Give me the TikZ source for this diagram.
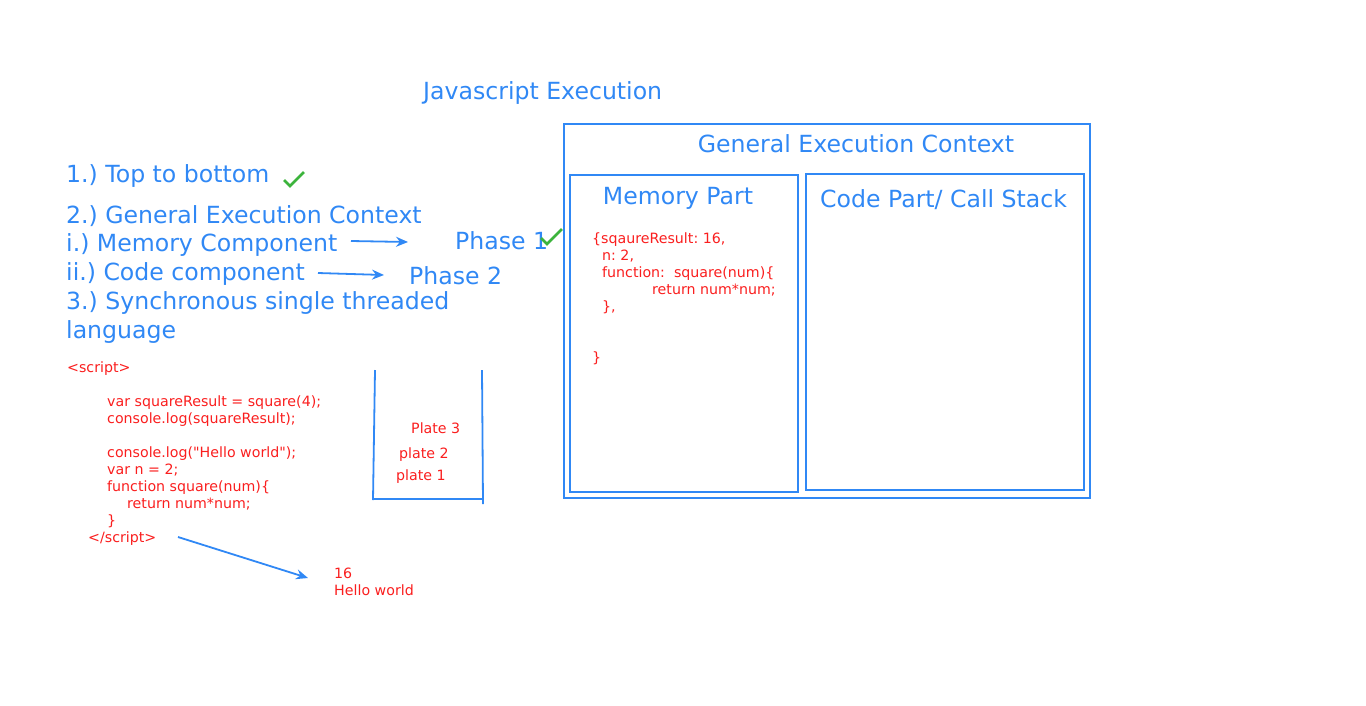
\documentclass[tikz,border=0pt]{standalone}
\usepackage{fontspec}
\setmainfont{DejaVu Sans}[Ligatures=TeXOff]
\frenchspacing
\definecolor{jsblue}{RGB}{48,136,245}
\definecolor{jsred}{RGB}{250,30,30}
\definecolor{jsgreen}{RGB}{60,180,60}
\usetikzlibrary{arrows.meta}
\begin{document}
\begin{tikzpicture}[x=1pt,y=-1pt,
  big/.style={text=jsblue,font=\fontsize{23.6}{29}\selectfont,inner sep=0pt},
  small/.style={text=jsred,font=\fontsize{14.2}{17}\selectfont,inner sep=0pt,align=left},
  box/.style={draw=jsblue,line width=1.8pt},
  arr/.style={draw=jsblue,line width=1.8pt,-{Stealth[length=12pt,width=10pt,inset=4pt]}},
  chk/.style={draw=jsgreen,line width=2.6pt}
]
\useasboundingbox (0,0) rectangle (1366,705);
% title
\node[big,anchor=west] (title) at (423,93) {Javascript Execution};
% boxes
\draw[box] (564,124) rectangle (1090,498);
\node[big,anchor=center] (gec) at (856,144) {General Execution Context};
\draw[box] (570,175) rectangle (798,492);
\node[big,anchor=center] (mem) at (678,198) {Memory Part};
\draw[box] (806,174) rectangle (1084,490);
\node[big,anchor=west] (code) at (820,200) {Code Part/ Call Stack};
\node[small,anchor=north west] (memtxt) at (592,232.5) {\{sqaureResult: 16,\\
\hspace*{10pt}n: 2,\\
\hspace*{10pt}function:\ \ square(num)\{\\
\hspace*{60pt}return num*num;\\
\hspace*{10pt}\},\\
\ \\
\ \\
\}};
% left list
\node[big,anchor=west] (l1) at (66,176) {1.) Top to bottom};
\draw[chk] (284,180) -- (290,186) -- (304,172);
\node[big,anchor=west] (l2) at (66,216) {2.) General Execution Context};
\node[big,anchor=west] (l3) at (66,245) {i.) Memory Component};
\node[big,anchor=west] (l4) at (66,274) {ii.) Code component};
\node[big,anchor=west] (l5) at (66,303) {3.) Synchronous single threaded};
\node[big,anchor=west] (l6) at (66,332) {language};
\node[big,anchor=west] (p1) at (455,241) {Phase 1};
\draw[chk] (541,238) -- (547,244) -- (562,229);
\node[big,anchor=west] (p2) at (409,276) {Phase 2};
\coordinate (a1s) at (351,241);
\coordinate (a1e) at (408,242);
\coordinate (a2s) at (318,273);
\coordinate (a2e) at (384,275);
\draw[arr] (a1s) -- (a1e);
\draw[arr] (a2s) -- (a2e);
% script
\node[small,anchor=north west] (script) at (67,361.5) {<script>\\
\ \\
\hspace*{40pt}var squareResult = square(4);\\
\hspace*{40pt}console.log(squareResult);\\
\ \\
\hspace*{40pt}console.log("Hello world");\\
\hspace*{40pt}var n = 2;\\
\hspace*{40pt}function square(num)\{\\
\hspace*{60pt}return num*num;\\
\hspace*{40pt}\}\\
\hspace*{21pt}</script>};
% stack
\coordinate (s1) at (375,370);
\coordinate (s2) at (373,500);
\coordinate (s3) at (482,370);
\coordinate (s4) at (483,504);
\draw[draw=jsblue,line width=1.8pt] (s1) -- (s2);
\draw[draw=jsblue,line width=1.8pt] (s3) -- (s4);
\draw[draw=jsblue,line width=1.8pt] (373,499) -- (483,499);
\node[small,anchor=west] (pl3) at (411,428) {Plate 3};
\node[small,anchor=west] (pl2) at (399,455) {plate 2};
\node[small,anchor=west] (pl1) at (396,477) {plate 1};
% output
\node[small,anchor=north west] (out) at (334,567.5) {16\\Hello world};
\coordinate (o1) at (178,537);
\coordinate (o2) at (308,578);
\draw[arr] (o1) -- (o2);
\end{tikzpicture}
\end{document}
